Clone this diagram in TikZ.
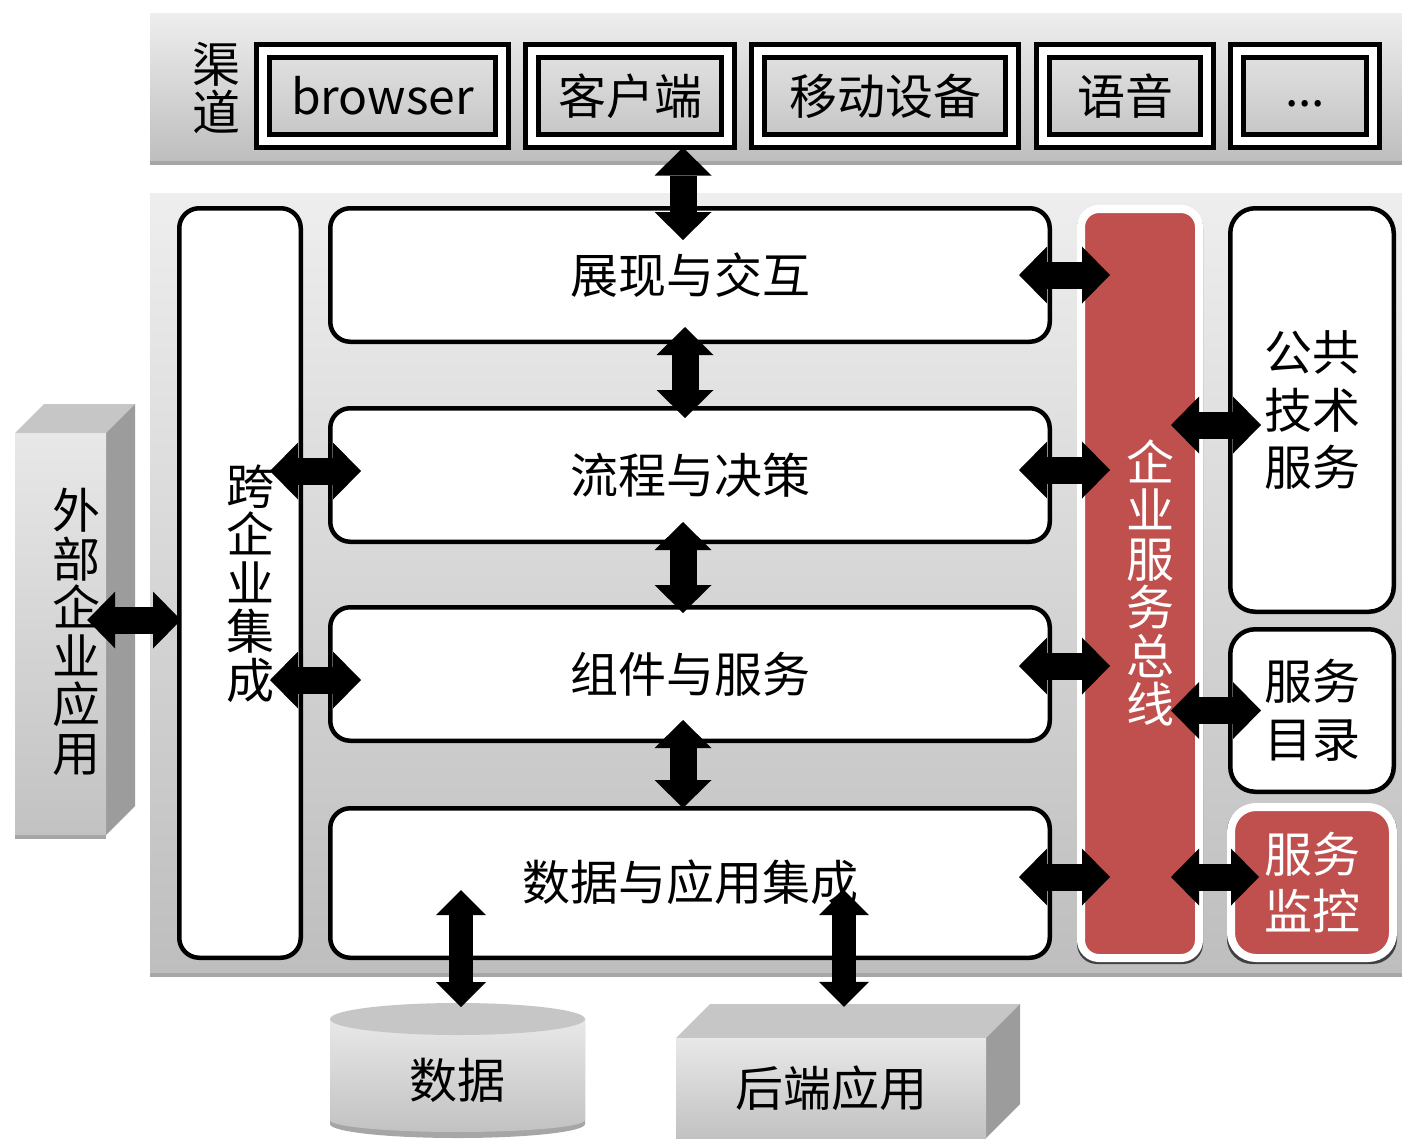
\documentclass[tikz,border=0pt]{standalone}
\usepackage{fontspec}
\setmainfont{Noto Sans CJK SC}
\usetikzlibrary{arrows.meta,calc}
\definecolor{busred}{HTML}{C0504D}
\definecolor{bartop}{HTML}{EEEEEE}
\definecolor{barbot}{HTML}{BEBEBE}
\definecolor{barstrip}{HTML}{A6A6A6}
\definecolor{boxtop}{HTML}{E8E8E8}
\definecolor{boxbot}{HTML}{C2C2C2}
\definecolor{boxtopface}{HTML}{C6C6C6}
\definecolor{boxside}{HTML}{9C9C9C}
\tikzset{
  bigtext/.style={font=\fontsize{48}{48}\selectfont},
  chbox/.style={draw=black, double=white, double distance=8pt, line width=5pt,
    inner sep=0pt, minimum height=90pt, bigtext},
  mbox/.style={draw=black, line width=4.5pt, rounded corners=20pt, fill=white,
    inner sep=0pt, bigtext},
  redbox/.style={draw=white, line width=8pt, rounded corners=18pt, fill=busred,
    inner sep=0pt, text=white, align=center},
  vtext/.style={align=center, inner sep=0pt, font=\fontsize{48}{48.5}\selectfont},
  sidetext/.style={align=center, font=\fontsize{48}{57.5}\selectfont},
  bigarrow/.style={line width=27pt,
    {Triangle[length=28pt,width=57pt,line width=0pt]}-{Triangle[length=28pt,width=57pt,line width=0pt]}},
  smallarrow/.style={line width=24pt,
    {Triangle[length=25pt,width=50pt,line width=0pt]}-{Triangle[length=25pt,width=50pt,line width=0pt]}},
  face/.style={top color=boxtop, bottom color=boxbot, inner sep=0pt, bigtext}
}
\begin{document}
\begin{tikzpicture}[x=1pt,y=-1pt]
\useasboundingbox (0,0) rectangle (1402,1138);
\fill[white] (0,0) rectangle (1402,1138);

% ---- channel bar
\shade[top color=bartop, bottom color=barbot] (150,13) rectangle (1402,161);
\fill[barstrip] (150,161) rectangle (1402,165);
\node[vtext, font=\fontsize{48}{47.5}\selectfont] (qd) at (216,88) {渠\\道};
\node[chbox, minimum width=239pt] (c1) at (382.5,96) {browser};
\node[chbox, minimum width=196pt] (c2) at (630,96) {客户端};
\node[chbox, minimum width=254pt] (c3) at (885,96) {移动设备};
\node[chbox, minimum width=164pt] (c4) at (1125,96) {语音};
\node[chbox, minimum width=136pt] (c5) at (1305,96) {\raisebox{-10pt}[0pt][0pt]{...}};

% ---- main panel
\shade[top color=bartop, bottom color=barbot] (150,193) rectangle (1402,973);
\fill[barstrip] (150,973) rectangle (1402,977);

\node[mbox, minimum width=121.5pt, minimum height=749.5pt] (cross) at (240,583) {};
\node[vtext] (crosstext) at (250,583.5) {跨\\企\\业\\集\\成};

\node[mbox, minimum width=719.5pt, minimum height=133.5pt] (show) at (690,275) {展现与交互};
\node[mbox, minimum width=719.5pt, minimum height=133.5pt] (flow) at (690,475) {流程与决策};
\node[mbox, minimum width=719.5pt, minimum height=133.5pt] (comp) at (690,674) {组件与服务};
\node[mbox, minimum width=719.5pt, minimum height=149.5pt] (integ) at (690,883) {};
\node[bigtext] (integtext) at (690,882) {数据与应用集成};

% enterprise service bus
\fill[black!75, rounded corners=20pt] (1077,208) rectangle (1203,964);
\node[redbox, minimum width=118pt, minimum height=749pt] (bus) at (1140,583.5) {};
\node[vtext, text=white] (bustext) at (1150,583) {企\\业\\服\\务\\总\\线};

\node[mbox, rounded corners=25pt, minimum width=163.5pt, minimum height=403.5pt, sidetext] (pub) at (1312,410) {公共\\技术\\服务};
\node[mbox, rounded corners=25pt, minimum width=163.5pt, minimum height=162.5pt, sidetext] (dir) at (1312,710.5) {服务\\目录};
\fill[black!75, rounded corners=25pt] (1227,806) rectangle (1397,964);
\node[redbox, rounded corners=25pt, minimum width=162pt, minimum height=151pt, sidetext] (mon) at (1312,882.5) {服务\\监控};

% ---- external application (3D box)
\fill[boxtopface] (15,433) -- (44,404) -- (135,404) -- (106,433) -- cycle;
\fill[boxside] (106,433) -- (135,404) -- (135,806) -- (106,835) -- cycle;
\node[face, minimum width=91pt, minimum height=402pt] (ext) at (60.5,634) {};
\fill[barstrip] (15,835) rectangle (106,839);
\node[vtext] (exttext) at (76,632) {外\\部\\企\\业\\应\\用};

% ---- data cylinder
\fill[barstrip] (330,1019) -- (330,1124) arc[start angle=180, end angle=0, x radius=127.5, y radius=14] -- (585,1019) -- cycle;
\shade[top color=boxtop, bottom color=boxbot] (330,1019) -- (330,1120) arc[start angle=180, end angle=0, x radius=127.5, y radius=12] -- (585,1019) -- cycle;
\fill[boxtopface] (457.5,1019) ellipse[x radius=127.5, y radius=16];
\node[bigtext] (data) at (457,1080) {数据};

% ---- backend application (3D box)
\fill[boxtopface] (676,1038) -- (710,1004) -- (1020,1004) -- (986,1038) -- cycle;
\fill[boxside] (986,1038) -- (1020,1004) -- (1020,1104) -- (986,1138) -- cycle;
\node[face, minimum width=310pt, minimum height=100pt] (back) at (831,1088) {后端应用};

% ---- connectors
\draw[bigarrow] ($(c2.south)+(53,4)$) -- ($(show.north)+(-7,34)$);
\draw[bigarrow] ($(show.south)+(-5,-17)$) -- ($(flow.north)+(-5,12)$);
\draw[bigarrow] ($(flow.south)+(-7,-22)$) -- ($(comp.north)+(-7,8)$);
\draw[bigarrow] ($(comp.south)+(-7,-23)$) -- ($(integ.north)+(-7,2)$);

\draw[bigarrow] ($(show.east)+(-33,0)$) -- ($(bus.west |- show.east)+(33,0)$);
\draw[bigarrow] ($(flow.east)+(-33,-5)$) -- ($(bus.west |- flow.east)+(33,-5)$);
\draw[bigarrow] ($(comp.east)+(-33,-8)$) -- ($(bus.west |- comp.east)+(33,-8)$);
\draw[bigarrow] ($(integ.east)+(-33,-6)$) -- ($(bus.west |- integ.east)+(33,-6)$);

\draw[bigarrow] ($(bus.east |- pub.west)+(-32,15)$) -- ($(pub.west)+(33,15)$);
\draw[bigarrow] ($(bus.east |- dir.west)+(-32,0)$) -- ($(dir.west)+(33,0)$);
\draw[bigarrow] ($(bus.east |- mon.west)+(-32,-5.5)$) -- ($(mon.west)+(32,-5.5)$);

\draw[bigarrow] ($(cross.east |- flow.west)+(-33,-4)$) -- ($(flow.west)+(33,-4)$);
\draw[bigarrow] ($(cross.east |- comp.west)+(-33,6)$) -- ($(comp.west)+(33,6)$);
\draw[bigarrow] ($(ext.east)+(-19,-14)$) -- ($(cross.west |- ext.east)+(4,-14)$);

\draw[smallarrow] ($(integ.south)+(-229,-70)$) -- ($(data.center)+(4,-73)$);
\draw[smallarrow] ($(integ.south)+(154,-70)$) -- ($(back.north)+(13,-31)$);
\end{tikzpicture}
\end{document}
